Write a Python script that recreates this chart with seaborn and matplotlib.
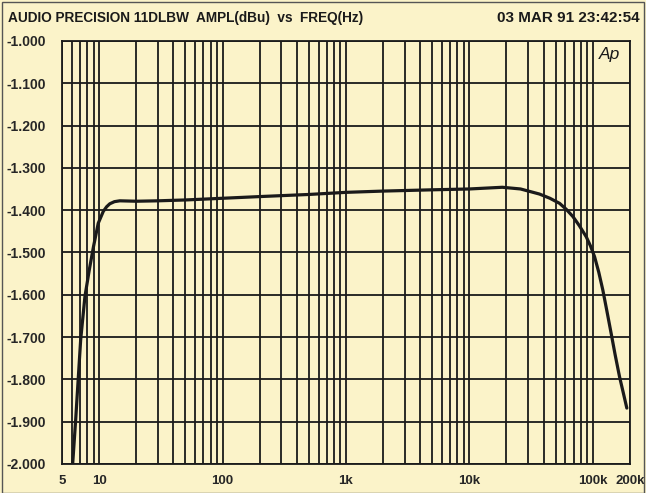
import matplotlib
matplotlib.use("Agg")
import matplotlib.pyplot as plt
import seaborn as sns
import pandas as pd
from matplotlib.ticker import FixedLocator, NullFormatter, LogLocator
from matplotlib.patches import Rectangle

# values
freq_hz = [6.1, 6.45, 7.08, 7.67, 8.32, 9.0, 9.83, 10.8, 11.5, 12.2, 13.3, 14.7, 20, 30,
           50, 100, 200, 500, 1000, 2000, 5000, 10000, 18500, 26000, 37000, 45000,
           53900, 61000, 69000, 78000, 88600, 96000, 103500, 112000, 120800, 130000,
           141000, 152000, 165000, 177000, 189000]
ampl_dbu = [-2.000, -1.896, -1.707, -1.604, -1.541, -1.486, -1.431, -1.403, -1.392,
            -1.385, -1.380, -1.378, -1.379, -1.378, -1.376, -1.372, -1.368, -1.363,
            -1.358, -1.355, -1.352, -1.350, -1.346, -1.350, -1.362, -1.372, -1.384,
            -1.398, -1.415, -1.437, -1.463, -1.485, -1.510, -1.547, -1.589, -1.637,
            -1.691, -1.742, -1.794, -1.832, -1.868]

y_ticks = [-1.0, -1.1, -1.2, -1.3, -1.4, -1.5, -1.6, -1.7, -1.8, -1.9, -2.0]
x_ticks = [5, 10, 100, 1000, 10000, 100000, 200000]
x_tick_labels = ["5", "10", "100", "1k", "10k", "100k", "200k"]

title_left = "AUDIO PRECISION 11DLBW  AMPL(dBu)  vs  FREQ(Hz)"
title_right = "03 MAR 91 23:42:54"

paper = "#fbf3c9"
ink = "#1a1a1a"

sns.set_style("white", {"axes.facecolor": paper, "figure.facecolor": paper})
plt.rcParams['font.family'] = ['Liberation Sans', 'DejaVu Sans']

df = pd.DataFrame({"freq": freq_hz, "ampl": ampl_dbu})

fig = plt.figure(figsize=(6.46, 4.93), dpi=100)
ax = fig.add_axes([0.096, 0.059, 0.879, 0.858])

sns.lineplot(data=df, x="freq", y="ampl", color=ink, linewidth=2.3, ax=ax, sort=False)

ax.set_xscale("log")
ax.set_xlim(5, 200000)
ax.set_ylim(-2.0, -1.0)

# log grid: every decade plus the 2..9 subdivisions
ax.xaxis.set_major_locator(FixedLocator(x_ticks))
ax.set_xticklabels(x_tick_labels)
ax.xaxis.set_minor_locator(LogLocator(base=10, subs=range(2, 10), numticks=20))
ax.xaxis.set_minor_formatter(NullFormatter())
ax.yaxis.set_major_locator(FixedLocator(y_ticks))
ax.set_yticklabels([f"{v:.3f}" for v in y_ticks])

ax.grid(True, which="both", axis="x", color=ink, linewidth=1.3)
ax.grid(True, which="major", axis="y", color=ink, linewidth=1.3)
ax.set_axisbelow(True)

ax.tick_params(axis="both", which="both", length=0)
ax.tick_params(axis="x", pad=8, labelsize=9.5)
ax.tick_params(axis="y", pad=40, labelsize=10)
for lab in ax.get_yticklabels():
    lab.set_horizontalalignment("left")
for lab in ax.get_xticklabels() + ax.get_yticklabels():
    lab.set_fontweight("bold")

for sp in ax.spines.values():
    sp.set_color(ink)
    sp.set_linewidth(1.3)

ax.set_xlabel("")
ax.set_ylabel("")

ax.text(0.983, 0.985, "Ap", transform=ax.transAxes, ha="right", va="top",
        fontsize=12.5, fontstyle="italic", color=ink)

fig.text(0.012, 0.963, title_left, ha="left", va="center", fontsize=9.8, fontweight="bold", color=ink)
fig.text(0.99, 0.963, title_right, ha="right", va="center", fontsize=11, fontweight="bold", color=ink)

fig.patches.append(Rectangle((0.003, 0.0), 0.994, 0.995, transform=fig.transFigure,
                             fill=False, edgecolor="#555555", linewidth=1.0))

fig.savefig("out.png", dpi=100, facecolor=paper)
